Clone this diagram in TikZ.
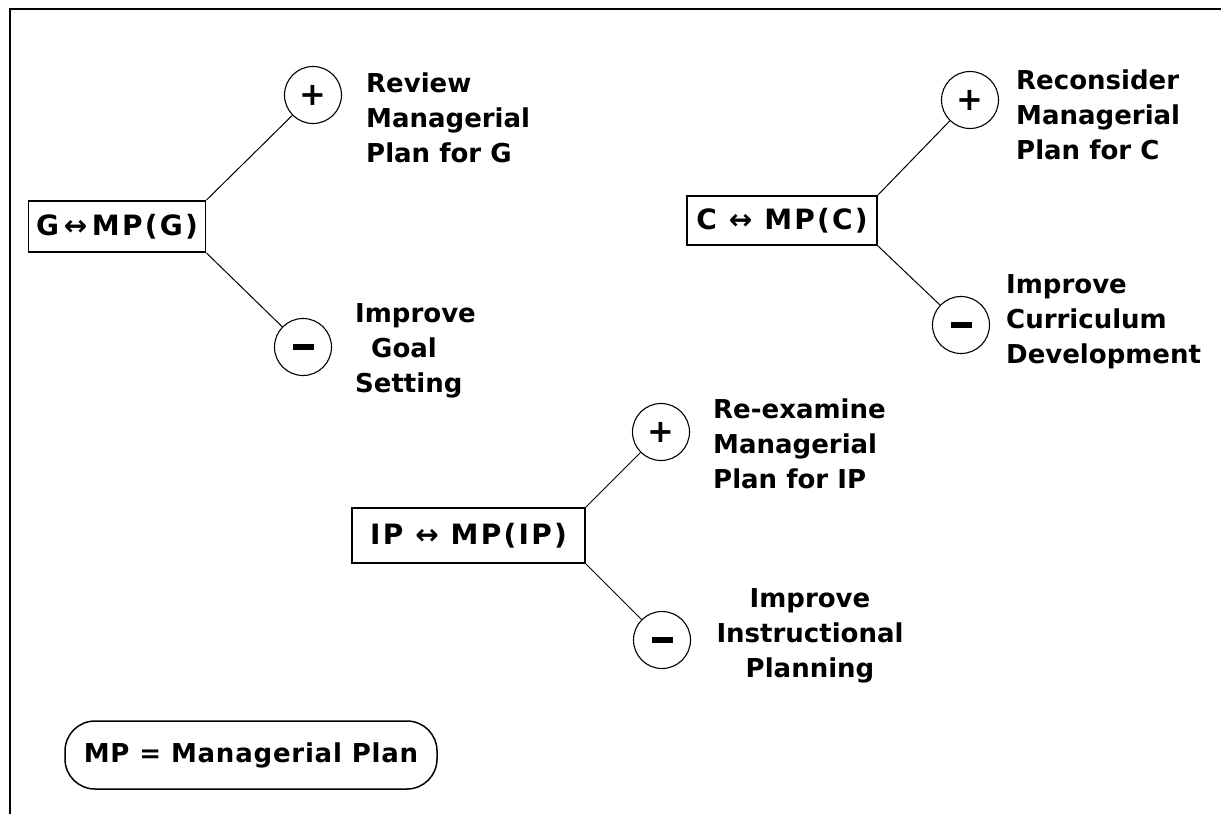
\documentclass[tikz,border=0pt]{standalone}
\usepackage{fontspec}
\setmainfont{DejaVu Sans}
\begin{document}
\begin{tikzpicture}[x=1pt,y=-1pt,
  every node/.style={font=\bfseries\fontsize{26}{35}\selectfont, text=black},
  relbox/.style={draw, line width=1.8pt, inner sep=0pt, anchor=center,
    font=\bfseries\fontsize{28}{34}\selectfont\addfontfeature{LetterSpace=8}},
  sign/.style={draw, circle, line width=1.1pt, minimum size=57pt, inner sep=0pt,
    font=\bfseries\fontsize{32}{34}\selectfont},
  lbl/.style={align=left, inner sep=0pt, anchor=base west},
  link/.style={line width=1pt},
  legend/.style={draw, line width=1.5pt, rounded corners=30pt, inner sep=0pt,
    font=\bfseries\fontsize{26}{34}\selectfont\addfontfeature{LetterSpace=3}}]
\useasboundingbox (0,0) rectangle (1221,814);
\fill[white] (0,0) rectangle (1221,814);
% frame along top and left edges
\draw[line width=2.5pt] (10,814) -- (10,9) -- (1221,9);

% goal setting cluster
\node[relbox, minimum width=177pt, minimum height=51pt] (g) at (117,226.5) {G\,↔\,MP(G)};
\node[sign] (gp) at (313,95) {+};
\node[sign] (gm) at (303,347) {\rule{21pt}{6pt}};
\draw[link] (g.north east) -- (gp);
\draw[link] (g.south east) -- (gm);
\node[lbl] (gpt) at (366,162) {Review\\Managerial\\Plan for G};
\node[lbl] (gmt) at (355,392) {Improve\\\hspace{16pt}Goal\\Setting};

% curriculum cluster
\node[relbox, minimum width=190pt, minimum height=49pt] (c) at (782,220.5) {C ↔ MP(C)};
\node[sign] (cp) at (970,100) {+};
\node[sign] (cm) at (961,325) {\rule{21pt}{6pt}};
\draw[link] (c.north east) -- (cp);
\draw[link] (c.south east) -- (cm);
\node[lbl] (cpt) at (1016,159) {Reconsider\\Managerial\\Plan for C};
\node[lbl] (cmt) at (1006,363) {Improve\\Curriculum\\Development};

% instructional planning cluster
\node[relbox, minimum width=233pt, minimum height=55pt] (ip) at (468.5,535.5) {IP ↔ MP(IP)};
\node[sign] (ipp) at (661,432) {+};
\node[sign] (ipm) at (662,640) {\rule{21pt}{6pt}};
\draw[link] (ip.north east) -- (ipp);
\draw[link] (ip.south east) -- (ipm);
\node[lbl] (ippt) at (713,488) {Re-examine\\Managerial\\Plan for IP};
\node[align=center, inner sep=0pt, anchor=base] (ipmt) at (810,677) {Improve\\Instructional\\Planning};

% legend
\node[legend, minimum width=372pt, minimum height=68pt] (key) at (251,755) {MP = Managerial Plan};
\end{tikzpicture}
\end{document}
